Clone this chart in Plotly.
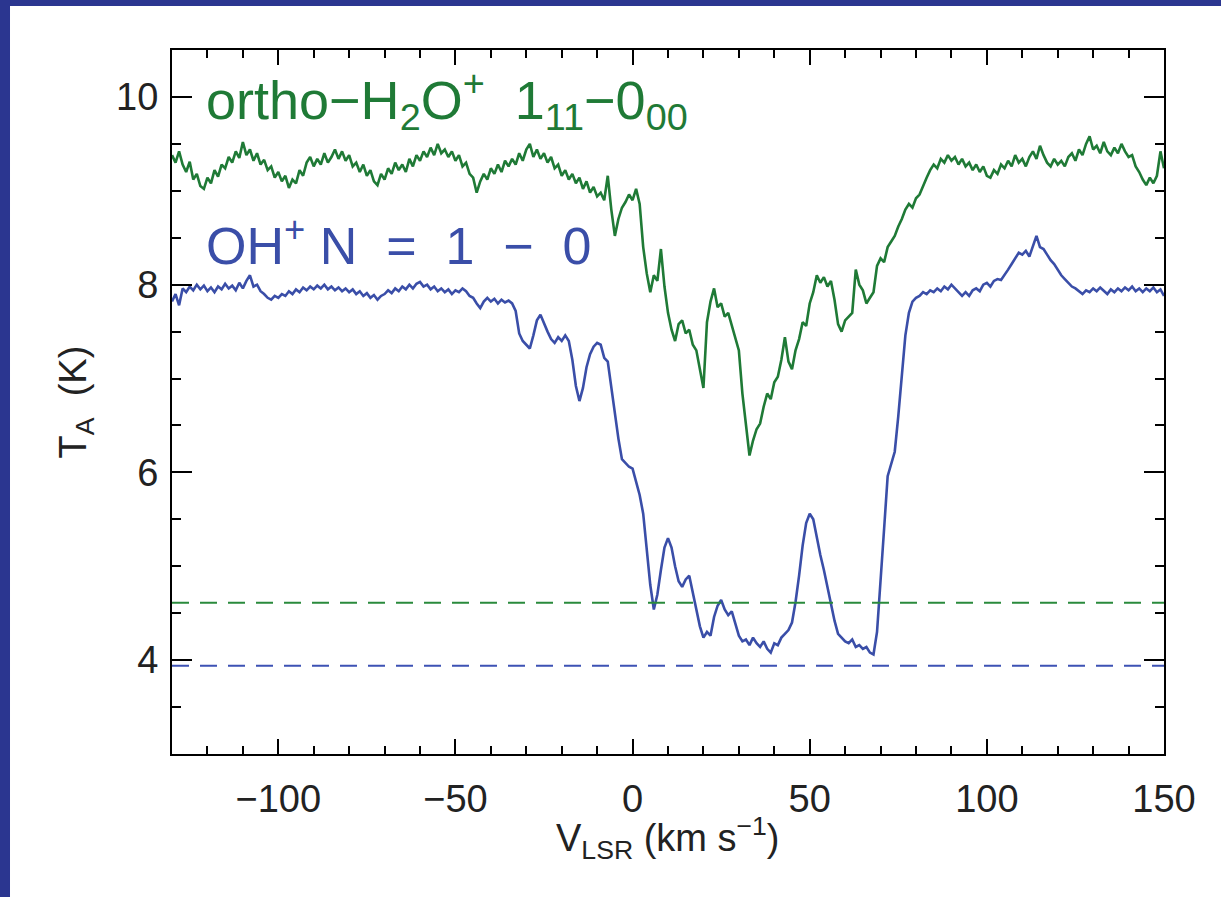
import plotly.graph_objects as go

# Velocity channels (km/s)
VELOCITY = [
    -130, -129, -128, -127, -126, -125, -124, -123, -122, -121,
    -120, -119, -118, -117, -116, -115, -114, -113, -112, -111,
    -110, -109, -108, -107, -106, -105, -104, -103, -102, -101,
    -100, -99, -98, -97, -96, -95, -94, -93, -92, -91,
    -90, -89, -88, -87, -86, -85, -84, -83, -82, -81,
    -80, -79, -78, -77, -76, -75, -74, -73, -72, -71,
    -70, -69, -68, -67, -66, -65, -64, -63, -62, -61,
    -60, -59, -58, -57, -56, -55, -54, -53, -52, -51,
    -50, -49, -48, -47, -46, -45, -44, -43, -42, -41,
    -40, -39, -38, -37, -36, -35, -34, -33, -32, -31,
    -30, -29, -28, -27, -26, -25, -24, -23, -22, -21,
    -20, -19, -18, -17, -16, -15, -14, -13, -12, -11,
    -10, -9, -8, -7, -6, -5, -4, -3, -2, -1,
    0, 1, 2, 3, 4, 5, 6, 7, 8, 9,
    10, 11, 12, 13, 14, 15, 16, 17, 18, 19,
    20, 21, 22, 23, 24, 25, 26, 27, 28, 29,
    30, 31, 32, 33, 34, 35, 36, 37, 38, 39,
    40, 41, 42, 43, 44, 45, 46, 47, 48, 49,
    50, 51, 52, 53, 54, 55, 56, 57, 58, 59,
    60, 61, 62, 63, 64, 65, 66, 67, 68, 69,
    70, 71, 72, 73, 74, 75, 76, 77, 78, 79,
    80, 81, 82, 83, 84, 85, 86, 87, 88, 89,
    90, 91, 92, 93, 94, 95, 96, 97, 98, 99,
    100, 101, 102, 103, 104, 105, 106, 107, 108, 109,
    110, 111, 112, 113, 114, 115, 116, 117, 118, 119,
    120, 121, 122, 123, 124, 125, 126, 127, 128, 129,
    130, 131, 132, 133, 134, 135, 136, 137, 138, 139,
    140, 141, 142, 143, 144, 145, 146, 147, 148, 149,
    150,
]

# ortho-H2O+ 1_11-0_00 antenna temperature (K)
H2OP_TA = [
    9.38, 9.30, 9.42, 9.28, 9.20, 9.31, 9.12, 9.18, 9.05, 9.02,
    9.14, 9.08, 9.22, 9.15, 9.28, 9.24, 9.36, 9.30, 9.42, 9.35,
    9.52, 9.38, 9.44, 9.32, 9.40, 9.28, 9.33, 9.22, 9.26, 9.14,
    9.20, 9.10, 9.16, 9.03, 9.12, 9.08, 9.22, 9.16, 9.30, 9.36,
    9.26, 9.34, 9.28, 9.40, 9.30, 9.36, 9.44, 9.34, 9.42, 9.32,
    9.38, 9.26, 9.30, 9.20, 9.28, 9.16, 9.22, 9.10, 9.06, 9.18,
    9.12, 9.24, 9.18, 9.30, 9.22, 9.28, 9.20, 9.34, 9.26, 9.38,
    9.32, 9.42, 9.36, 9.46, 9.38, 9.50, 9.40, 9.44, 9.36, 9.42,
    9.32, 9.38, 9.26, 9.30, 9.18, 9.14, 8.98, 9.10, 9.18, 9.12,
    9.24, 9.18, 9.28, 9.20, 9.32, 9.26, 9.34, 9.28, 9.40, 9.32,
    9.44, 9.50, 9.36, 9.44, 9.34, 9.40, 9.30, 9.36, 9.24, 9.28,
    9.16, 9.22, 9.12, 9.18, 9.08, 9.14, 9.02, 9.10, 8.98, 9.04,
    8.94, 8.98, 8.90, 9.16, 8.80, 8.52, 8.70, 8.82, 8.88, 8.96,
    8.90, 9.02, 8.86, 8.40, 8.12, 7.92, 8.10, 8.04, 8.38, 7.98,
    7.70, 7.52, 7.40, 7.58, 7.62, 7.48, 7.52, 7.36, 7.30, 7.10,
    6.90, 7.60, 7.82, 7.96, 7.76, 7.80, 7.66, 7.70, 7.56, 7.44,
    7.30, 6.84, 6.50, 6.18, 6.34, 6.46, 6.52, 6.70, 6.84, 6.78,
    6.96, 7.02, 7.20, 7.44, 7.18, 7.10, 7.30, 7.42, 7.60, 7.56,
    7.80, 7.92, 8.10, 8.02, 8.08, 7.98, 8.04, 7.84, 7.58, 7.50,
    7.62, 7.66, 7.70, 8.16, 8.00, 7.94, 7.80, 7.86, 7.92, 8.20,
    8.28, 8.24, 8.40, 8.46, 8.52, 8.62, 8.70, 8.80, 8.86, 8.82,
    8.92, 8.96, 9.06, 9.14, 9.22, 9.28, 9.24, 9.34, 9.30, 9.38,
    9.32, 9.36, 9.28, 9.34, 9.26, 9.30, 9.22, 9.28, 9.20, 9.26,
    9.16, 9.14, 9.22, 9.18, 9.28, 9.24, 9.32, 9.26, 9.38, 9.30,
    9.34, 9.26, 9.36, 9.42, 9.34, 9.48, 9.38, 9.30, 9.26, 9.34,
    9.28, 9.32, 9.26, 9.36, 9.40, 9.32, 9.44, 9.38, 9.50, 9.58,
    9.44, 9.48, 9.40, 9.52, 9.42, 9.38, 9.46, 9.40, 9.50, 9.42,
    9.36, 9.38, 9.26, 9.20, 9.12, 9.06, 9.14, 9.08, 9.16, 9.42,
    9.24,
]

# OH+ N=1-0 antenna temperature (K)
OHP_TA = [
    7.82, 7.90, 7.78, 7.96, 7.92, 7.98, 7.94, 8.00, 7.95, 7.99,
    7.93, 7.97, 7.92, 7.98, 7.95, 8.01, 7.96, 7.99, 7.94, 8.02,
    7.96, 8.04, 8.10, 7.98, 8.00, 7.93, 7.90, 7.86, 7.84, 7.88,
    7.86, 7.90, 7.88, 7.93, 7.90, 7.95, 7.92, 7.97, 7.94, 7.98,
    7.95, 7.99, 7.96, 8.00, 7.95, 7.98, 7.94, 7.97, 7.93, 7.96,
    7.92, 7.95, 7.90, 7.93, 7.88, 7.91, 7.86, 7.89, 7.84, 7.88,
    7.90, 7.94, 7.91, 7.96, 7.93, 7.98, 7.95, 8.00, 7.96, 8.01,
    8.03, 7.98, 8.00, 7.95, 7.98, 7.93, 7.96, 7.92, 7.95, 7.90,
    7.94, 7.92, 7.96, 7.93, 7.88, 7.86, 7.80, 7.75, 7.82, 7.86,
    7.82, 7.85, 7.80, 7.84, 7.81, 7.83, 7.80, 7.72, 7.48, 7.40,
    7.36, 7.32, 7.46, 7.62, 7.68, 7.58, 7.50, 7.42, 7.38, 7.44,
    7.40, 7.46, 7.40, 7.20, 6.92, 6.76, 6.90, 7.12, 7.26, 7.34,
    7.38, 7.36, 7.22, 7.18, 6.90, 6.62, 6.36, 6.14, 6.10, 6.06,
    6.04, 5.90, 5.76, 5.56, 5.20, 4.80, 4.54, 4.70, 4.96, 5.20,
    5.30, 5.20, 5.00, 4.84, 4.78, 4.86, 4.90, 4.72, 4.52, 4.36,
    4.24, 4.30, 4.26, 4.46, 4.58, 4.64, 4.54, 4.48, 4.52, 4.40,
    4.26, 4.20, 4.22, 4.16, 4.24, 4.18, 4.14, 4.20, 4.12, 4.08,
    4.18, 4.16, 4.24, 4.28, 4.32, 4.40, 4.62, 4.90, 5.22, 5.46,
    5.56, 5.50, 5.30, 5.12, 4.96, 4.78, 4.62, 4.42, 4.28, 4.24,
    4.20, 4.18, 4.22, 4.14, 4.16, 4.12, 4.14, 4.08, 4.06, 4.30,
    4.80, 5.40, 5.96, 6.10, 6.22, 6.60, 7.00, 7.46, 7.70, 7.82,
    7.86, 7.88, 7.92, 7.90, 7.94, 7.92, 7.96, 7.93, 7.98, 7.95,
    8.00, 7.96, 7.92, 7.88, 7.92, 7.88, 7.94, 7.96, 7.93, 8.00,
    8.02, 7.98, 8.04, 8.06, 8.05, 8.10, 8.16, 8.22, 8.28, 8.34,
    8.32, 8.36, 8.30, 8.42, 8.52, 8.40, 8.38, 8.32, 8.26, 8.22,
    8.16, 8.10, 8.06, 8.02, 7.98, 7.96, 7.93, 7.90, 7.94, 7.92,
    7.96, 7.93, 7.97, 7.94, 7.90, 7.95, 7.92, 7.96, 7.93, 7.97,
    7.94, 7.98, 7.93, 7.96, 7.92, 7.96, 7.93, 7.97, 7.92, 7.95,
    7.88,
]

# Dashed reference levels (K)
H2OP_LEVEL = 4.61
OHP_LEVEL = 3.94

X_RANGE = [-130, 150]
Y_RANGE = [3, 10.5]
X_TICKS = [-100, -50, 0, 50, 100, 150]
Y_TICKS = [4, 6, 8, 10]

GREEN = "#1f7a36"
BLUE = "#3a4ea8"
FRAME = "#2b3690"
FONT = "Liberation Sans, Arial, sans-serif"
TEXT = "#222222"

fig = go.Figure()
fig.add_trace(go.Scatter(x=VELOCITY, y=H2OP_TA, mode="lines",
                         line=dict(color=GREEN, width=2.6), showlegend=False))
fig.add_trace(go.Scatter(x=VELOCITY, y=OHP_TA, mode="lines",
                         line=dict(color=BLUE, width=2.6), showlegend=False))
fig.add_trace(go.Scatter(x=X_RANGE, y=[H2OP_LEVEL, H2OP_LEVEL], mode="lines",
                         line=dict(color="#2a8a3c", width=2, dash="17px,11px"),
                         showlegend=False))
fig.add_trace(go.Scatter(x=X_RANGE, y=[OHP_LEVEL, OHP_LEVEL], mode="lines",
                         line=dict(color="#3d52b4", width=2, dash="17px,11px"),
                         showlegend=False))

axis_common = dict(showline=True, linecolor="black", linewidth=2, mirror="ticks",
                   ticks="inside", tickcolor="black", tickwidth=2,
                   showgrid=False, zeroline=False,
                   tickfont=dict(family=FONT, size=38, color=TEXT))

fig.update_xaxes(range=X_RANGE, tickvals=X_TICKS, ticklen=15,
                 minor=dict(dtick=10, ticklen=8, tickwidth=2, tickcolor="black", ticks="inside"),
                 ticklabelstandoff=10,
                 **axis_common)
fig.update_yaxes(range=Y_RANGE, tickvals=Y_TICKS, ticklen=20,
                 minor=dict(dtick=0.5, ticklen=9, tickwidth=2, tickcolor="black", ticks="inside"),
                 ticklabelstandoff=4,
                 title=dict(text="T<sub>A</sub>\u00a0\u00a0(K)",
                            font=dict(family=FONT, size=38, color=TEXT), standoff=18),
                 **axis_common)

# x-axis title placed as an annotation to sit close to the tick labels
fig.add_annotation(x=0.5, y=-0.119, xref="paper", yref="paper", xanchor="center", yanchor="middle",
                   text="V<sub>LSR</sub> (km s<sup>−1</sup>)", showarrow=False,
                   font=dict(family=FONT, size=38, color=TEXT))

fig.add_annotation(x=-121, y=9.97, xref="x", yref="y", xanchor="left", yanchor="middle",
                   text="ortho−H<sub>2</sub>O<sup>+</sup>\u00a0\u00a01<sub>11</sub>−0<sub>00</sub>",
                   showarrow=False, font=dict(family=FONT, size=54, color=GREEN))
fig.add_annotation(x=-121, y=8.45, xref="x", yref="y", xanchor="left", yanchor="middle",
                   text="OH<sup>+</sup>\u00a0N\u00a0\u00a0=\u00a0\u00a01\u00a0\u00a0−\u00a0\u00a00",
                   showarrow=False, font=dict(family=FONT, size=52, color=BLUE))

# Dark blue frame strips on top and left edges of the slide
fig.add_shape(type="rect", xref="paper", yref="paper", x0=-0.3, x1=1.2, y0=1.0625, y1=1.2,
              fillcolor=FRAME, line=dict(width=0), layer="above")
fig.add_shape(type="rect", xref="paper", yref="paper", x0=-0.3, x1=-0.1633, y0=-0.3, y1=1.2,
              fillcolor=FRAME, line=dict(width=0), layer="above")

fig.update_layout(width=1221, height=897,
                  margin=dict(l=172, r=57, t=50, b=143),
                  paper_bgcolor="white", plot_bgcolor="white")

fig.write_html("out.html", config={"displayModeBar": False},
               post_script="document.body.style.margin='0';")
